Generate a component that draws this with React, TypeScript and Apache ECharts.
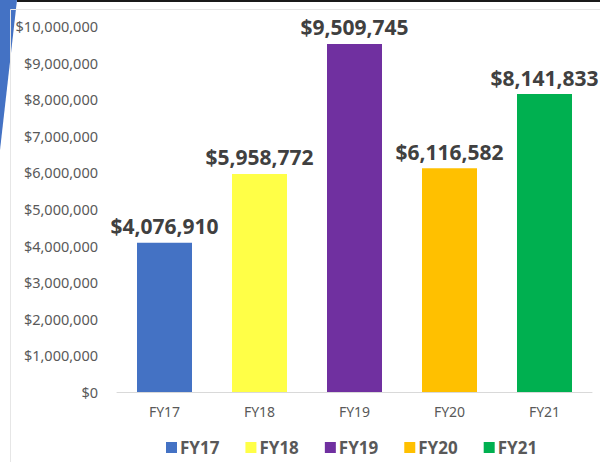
import React, { useEffect, useRef } from "react";
import * as echarts from "echarts";

const categories = ["FY17", "FY18", "FY19", "FY20", "FY21"];
const values = [4076910, 5958772, 9509745, 6116582, 8141833];
const colors = ["#4472c4", "#ffff47", "#7030a0", "#ffc000", "#00b050"];
const yTicks = { min: 0, max: 10000000, interval: 1000000 };

const money = (v: number) => "$" + Math.round(v).toLocaleString("en-US");
const FONT = "'Noto Sans', sans-serif";

export default function App() {
  const ref = useRef<HTMLDivElement>(null);
  useEffect(() => {
    if (!ref.current) return;
    const chart = echarts.init(ref.current, undefined, { renderer: "svg" });
    const series = categories.map((name, i) => ({
      name,
      type: "bar",
      barWidth: 55,
      barGap: "-100%",
      itemStyle: { color: colors[i] },
      data: categories.map((_, j) => (j === i ? values[i] : null)),
      label: {
        show: true,
        position: "top",
        distance: 6,
        formatter: (p: any) => money(p.value),
        color: "#404040",
        fontFamily: FONT,
        fontWeight: "bold",
        fontSize: 21,
      },
    }));
    chart.setOption({
      animation: false,
      backgroundColor: "#ffffff",
      textStyle: { fontFamily: FONT },
      graphic: [
        {
          type: "polygon",
          z: 0,
          silent: true,
          shape: { points: [[0, 0], [17, 0], [0, 150]] },
          style: { fill: "#4472c4" },
        },
        {
          type: "rect",
          z: 1,
          silent: true,
          shape: { x: 10.5, y: 9.5, width: 600, height: 470 },
          style: { fill: "none", stroke: "#e6e6e6", lineWidth: 1 },
        },
        {
          type: "rect",
          z: 2,
          silent: true,
          shape: { x: 17, y: 0, width: 583, height: 2 },
          style: { fill: "#1a1a1a" },
        },
      ],
      grid: { left: 117, right: 8, top: 26, bottom: 70, containLabel: false },
      legend: {
        left: 161,
        top: 434,
        itemWidth: 11,
        itemHeight: 11,
        itemGap: 26,
        icon: "rect",
        textStyle: {
          color: "#595959",
          fontWeight: "bold",
          fontSize: 17,
          fontFamily: FONT,
          padding: [0, 0, 0, -2],
        },
        data: categories,
      },
      xAxis: {
        type: "category",
        data: categories,
        axisLine: { lineStyle: { color: "#d9d9d9", width: 1 } },
        axisTick: { show: false },
        axisLabel: { color: "#595959", fontSize: 14, margin: 12, fontFamily: FONT },
      },
      yAxis: {
        type: "value",
        min: yTicks.min,
        max: yTicks.max,
        interval: yTicks.interval,
        splitLine: { show: false },
        axisLine: { show: false },
        axisTick: { show: false },
        axisLabel: {
          color: "#595959",
          fontSize: 14.5,
          margin: 19,
          fontFamily: FONT,
          formatter: (v: number) => money(v),
        },
      },
      series,
    });
    return () => chart.dispose();
  }, []);
  return (
    <div
      ref={ref}
      style={{ position: "fixed", left: 0, top: 0, width: 600, height: 462 }}
    />
  );
}
